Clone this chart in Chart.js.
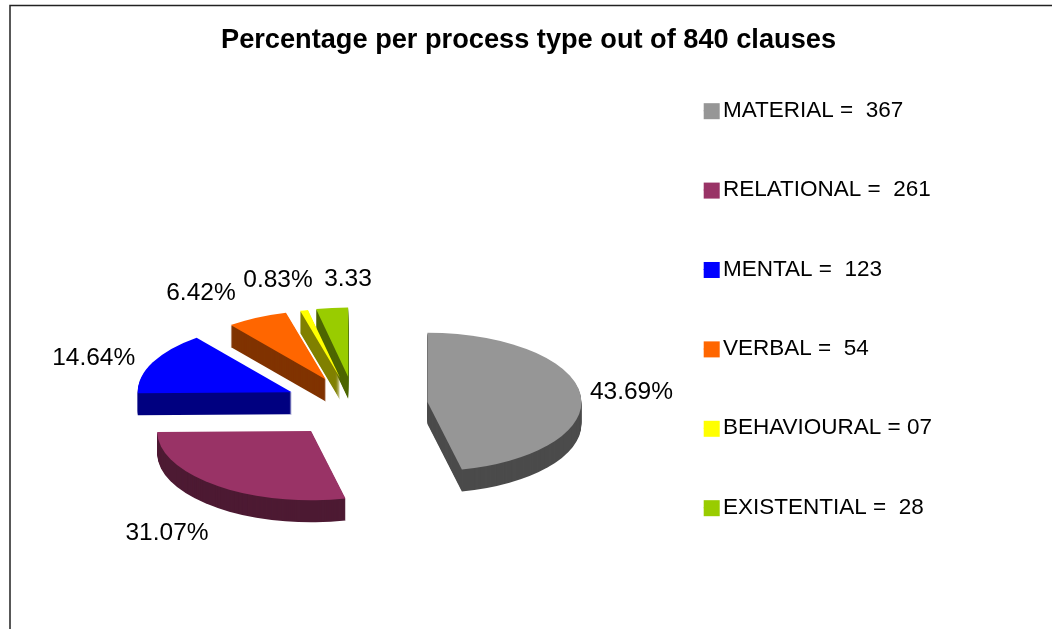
<!DOCTYPE html>
<html>
<head>
<meta charset="utf-8">
<style>
  html, body { margin: 0; padding: 0; background: #fff; }
  #wrap { width: 1052px; height: 629px; }
</style>
<script src="https://cdn.jsdelivr.net/npm/chart.js@4/dist/chart.umd.js"></script>
</head>
<body>
<div id="wrap"><canvas id="processPie" width="1052" height="629"></canvas></div>
<script>
const categories = ['MATERIAL', 'RELATIONAL', 'MENTAL', 'VERBAL', 'BEHAVIOURAL', 'EXISTENTIAL'];
const clauseCounts = [367, 261, 123, 54, 7, 28];
const legendLabels = ['MATERIAL =  367', 'RELATIONAL =  261', 'MENTAL =  123', 'VERBAL =  54', 'BEHAVIOURAL = 07', 'EXISTENTIAL =  28'];
const percentLabels = ['43.69%', '31.07%', '14.64%', '6.42%', '0.83%', '3.33'];

const topColors = ['#969696', '#993366', '#0000ff', '#ff6600', '#ffff00', '#99cc00'];
const sideColors = ['#4b4b4b', '#4d1a33', '#000080', '#803300', '#808000', '#4d6600'];
const explode = [73, 71, 70, 65, 64, 65];
// where each percent label sits, relative to the rim of its slice
const labelNudgeX = [51, -49, -59, -56, -26, 16];
const labelNudgeY = [-1, 49, -3, -23, -29, -28];

const SQUASH = 0.45;
const DEPTH = 22;
// the pie sits left of and below the middle of the chart area
const PIE_SHIFT_X = -26;
const PIE_SHIFT_Y = 70;

// Excel's 3D view squeezes the lower right quarter, so the angles there get pushed a bit
function warp(a) {
  return (a > 0 && a < Math.PI / 2) ? a + 0.24 * Math.sin(2 * a) : a;
}

function slicePath(ctx, x, y, rx, start, end) {
  ctx.beginPath();
  ctx.moveTo(x, y);
  ctx.ellipse(x, y, rx, rx * SQUASH, 0, start, end);
  ctx.closePath();
}

const pie3d = {
  id: 'pie3d',
  beforeDraw(chart) {
    const ctx = chart.ctx;
    ctx.save();
    ctx.strokeStyle = '#222';
    ctx.lineWidth = 1.5;
    ctx.beginPath();
    ctx.moveTo(10, 629);
    ctx.lineTo(10, 5.5);
    ctx.lineTo(1052, 5.5);
    ctx.stroke();
    ctx.restore();
  },
  beforeDatasetsDraw(chart) {
    const ctx = chart.ctx;
    const slices = chart.getDatasetMeta(0).data.map((arc, i) => {
      const start = warp(arc.startAngle);
      const end = warp(arc.endAngle);
      const mid = (start + end) / 2;
      const off = arc.options.offset;
      return {
        i, start, end, mid,
        rx: arc.outerRadius,
        x: arc.x + PIE_SHIFT_X + Math.cos(mid) * off,
        y: arc.y + PIE_SHIFT_Y + Math.sin(mid) * off * SQUASH
      };
    });

    // back to front
    const order = slices.slice().sort((a, b) => Math.sin(a.mid) - Math.sin(b.mid));
    ctx.save();
    order.forEach(s => {
      ctx.fillStyle = sideColors[s.i];
      for (let d = DEPTH; d > 0; d--) {
        slicePath(ctx, s.x, s.y + d, s.rx, s.start, s.end);
        ctx.fill();
      }
      ctx.fillStyle = topColors[s.i];
      slicePath(ctx, s.x, s.y, s.rx, s.start, s.end);
      ctx.fill();
    });

    ctx.fillStyle = '#000';
    ctx.font = '24.5px "Liberation Sans"';
    ctx.textAlign = 'center';
    ctx.textBaseline = 'middle';
    slices.forEach(s => {
      const rimX = s.x + Math.cos(s.mid) * s.rx;
      const rimY = s.y + Math.sin(s.mid) * s.rx * SQUASH;
      ctx.fillText(percentLabels[s.i], rimX + labelNudgeX[s.i], rimY + labelNudgeY[s.i] - 1);
    });
    ctx.restore();
    return false;
  },
  afterDraw(chart) {
    // legend squares are wider than the slot the library leaves before the text
    const ctx = chart.ctx;
    ctx.save();
    chart.legend.legendHitBoxes.forEach((box, i) => {
      ctx.fillStyle = topColors[i];
      ctx.fillRect(box.left, box.top + (box.height - 16) / 2 + 0.5, 16, 16);
    });
    ctx.restore();
  }
};

new Chart(document.getElementById('processPie').getContext('2d'), {
  type: 'pie',
  data: {
    labels: legendLabels,
    datasets: [{
      label: 'Clauses',
      data: clauseCounts,
      backgroundColor: topColors,
      borderWidth: 0,
      offset: explode
    }]
  },
  options: {
    responsive: false,
    animation: false,
    radius: 154,
    layout: { padding: { left: 115, right: 110, top: 0, bottom: 0 } },
    plugins: {
      title: {
        display: true,
        text: 'Percentage per process type out of 840 clauses',
        color: '#000',
        font: { family: '"Liberation Sans"', size: 27.2, weight: 'bold' },
        padding: { top: 23.7, bottom: -13.8 }
      },
      legend: {
        position: 'right',
        align: 'start',
        fullSize: false,
        labels: {
          color: '#000',
          boxWidth: 8,
          boxHeight: 1,
          padding: 56.9,
          font: { family: '"Liberation Sans"', size: 22.5 }
        }
      },
      tooltip: { enabled: false }
    }
  },
  plugins: [pie3d]
});
</script>
</body>
</html>
